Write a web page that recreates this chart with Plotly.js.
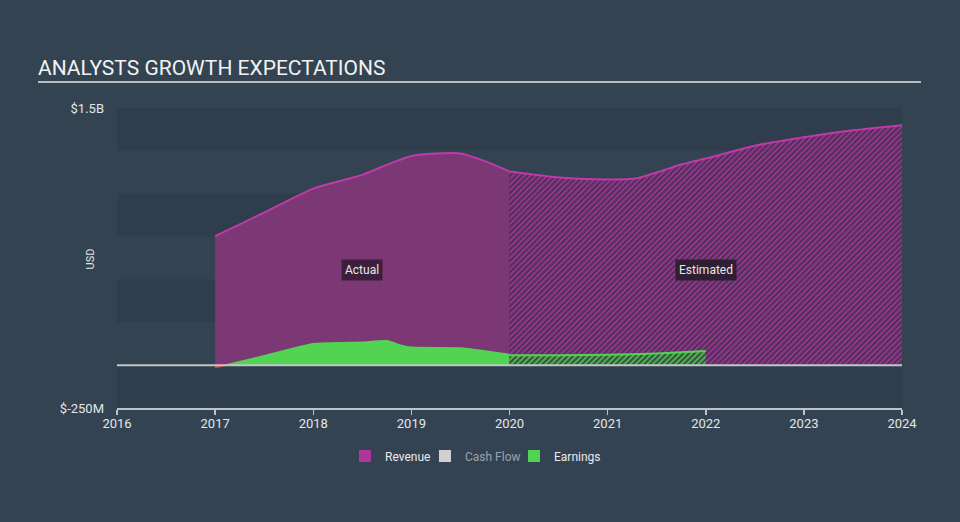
<!DOCTYPE html>
<html>
<head>
<meta charset="utf-8">
<script src="https://cdn.plot.ly/plotly-3.0.1.min.js"></script>
<style>
html,body{margin:0;padding:0;background:#344351;}
#chart{width:960px;height:522px;}
</style>
</head>
<body>
<div id="chart"></div>
<script>
// ---- data (USD billions) ----
const revActualX = [2017.0, 2017.5, 2018.0, 2018.5, 2018.8, 2019.0, 2019.25, 2019.5, 2019.75, 2020.0];
const revActualY = [0.753, 0.89, 1.03, 1.11, 1.18, 1.22, 1.235, 1.235, 1.19, 1.13];
const revEstX = [2020.0, 2020.5, 2021.0, 2021.3, 2021.75, 2022.0, 2022.5, 2023.0, 2023.5, 2024.0];
const revEstY = [1.13, 1.095, 1.083, 1.09, 1.17, 1.205, 1.28, 1.33, 1.37, 1.40];
const earnActualX = [2017.0, 2017.1, 2017.5, 2018.0, 2018.5, 2018.75, 2018.9, 2019.0, 2019.5, 2019.75, 2020.0];
const earnActualY = [-0.012, 0, 0.055, 0.125, 0.134, 0.142, 0.115, 0.104, 0.1, 0.082, 0.062];
const earnEstX = [2020.0, 2020.5, 2021.0, 2021.5, 2022.0];
const earnEstY = [0.058, 0.058, 0.06, 0.068, 0.082];
const xTicks = [2016, 2017, 2018, 2019, 2020, 2021, 2022, 2023, 2024];
const yTickVals = [-0.25, 1.5];
const yTickText = ['$-250M', '$1.5B'];
const bandEdges = [-0.25, 0, 0.25, 0.5, 0.75, 1.0, 1.25, 1.5];
const seriesNames = ['Revenue', 'Cash Flow', 'Earnings'];
const seriesColors = ['#b0359b', '#d0d0d0', '#52d452'];

const FONT = 'Roboto, "Open Sans", sans-serif';

const traces = [
  { x: revActualX, y: revActualY, type: 'scatter', mode: 'lines', fill: 'tozeroy',
    fillcolor: '#7b3875', line: {color: '#c03aa9', width: 2, shape: 'spline', smoothing: 0.6},
    showlegend: false, hoverinfo: 'skip' },
  { x: revEstX, y: revEstY, type: 'scatter', mode: 'lines', fill: 'tozeroy',
    fillcolor: '#55305a',
    fillpattern: {shape: '/', bgcolor: '#4f3057', fgcolor: '#9c3694', size: 4, solidity: 0.45},
    line: {color: '#c03aa9', width: 2, shape: 'spline', smoothing: 0.6},
    showlegend: false, hoverinfo: 'skip' },
  { x: earnActualX.slice(0, 2), y: earnActualY.slice(0, 2), type: 'scatter', mode: 'lines', fill: 'tozeroy',
    fillcolor: '#e2443c', line: {color: '#e2443c', width: 2},
    showlegend: false, hoverinfo: 'skip' },
  { x: earnActualX.slice(1), y: earnActualY.slice(1), type: 'scatter', mode: 'lines', fill: 'tozeroy',
    fillcolor: '#52d452', line: {color: '#52d452', width: 1.5, shape: 'spline', smoothing: 0.5},
    showlegend: false, hoverinfo: 'skip' },
  { x: earnEstX, y: earnEstY, type: 'scatter', mode: 'lines', fill: 'tozeroy',
    fillcolor: '#3a5a40',
    fillpattern: {shape: '/', bgcolor: '#3a4f42', fgcolor: '#4fc44f', size: 4, solidity: 0.45},
    line: {color: '#52d452', width: 2, shape: 'spline', smoothing: 0.5},
    showlegend: false, hoverinfo: 'skip' }
];

const legendIds = ['legend', 'legend2', 'legend3'];
const legendBoxCenters = [367, 447, 536];
seriesNames.forEach((n, i) => {
  traces.push({
    type: 'bar', x: [null], y: [null], marker: {color: seriesColors[i]},
    name: n === 'Cash Flow' ? '<span style="color:#97a3ae">' + n + '</span>' : n,
    showlegend: true, hoverinfo: 'skip', legend: legendIds[i]
  });
});

const shapes = [];
for (let i = 0; i < bandEdges.length - 1; i++) {
  if (i % 2 === 0) {
    shapes.push({type: 'rect', xref: 'paper', yref: 'y', x0: 0, x1: 1,
      y0: bandEdges[i], y1: bandEdges[i + 1], fillcolor: '#2f3d4c', line: {width: 0}, layer: 'below'});
  }
}
// zero line on top
shapes.push({type: 'line', xref: 'paper', yref: 'y', x0: 0, x1: 1, y0: 0, y1: 0,
  line: {color: '#c2c6ca', width: 2}, layer: 'above'});
// title underline
shapes.push({type: 'line', xref: 'paper', yref: 'paper', x0: -0.1006, x1: 1.0242, y0: 1.0867, y1: 1.0867,
  line: {color: '#b9bdc1', width: 2}});

const layout = {
  width: 960, height: 522,
  paper_bgcolor: '#344351', plot_bgcolor: '#334351',
  margin: {l: 117, r: 58, t: 108, b: 114},
  font: {family: FONT, color: '#e2e6ea', size: 12},
  title: {text: 'ANALYSTS GROWTH EXPECTATIONS', font: {family: FONT, size: 21, color: '#f2f2f2'},
    xref: 'container', yref: 'container', x: 38 / 960, xanchor: 'left', y: 1 - 68 / 522, yanchor: 'middle'},
  xaxis: {range: [2016, 2024], tickvals: xTicks, ticktext: xTicks.map(String),
    showgrid: false, zeroline: false, showline: true, linecolor: '#bcc3ca', linewidth: 1.5,
    ticks: 'outside', ticklen: 5, tickcolor: '#bcc3ca', tickwidth: 1.5, ticklabelstandoff: -2,
    tickfont: {size: 13, color: '#e2e6ea'}, fixedrange: true},
  yaxis: {range: [-0.25, 1.5], tickvals: yTickVals, ticktext: yTickText,
    showgrid: false, zeroline: false, showline: false, ticks: '', ticklabelstandoff: 12,
    tickfont: {size: 13, color: '#e2e6ea'}, fixedrange: true},
  showlegend: true,
  annotations: [
    {x: -0.0446, y: 0.497, xref: 'paper', yref: 'paper', text: 'USD', showarrow: false, textangle: -90,
      font: {size: 11, color: '#e2e6ea'}},
    {x: 2018.5, y: 0.553, xref: 'x', yref: 'y', text: 'Actual', showarrow: false,
      bgcolor: '#3b1f3c', font: {size: 12, color: '#e8e8e8'}, borderpad: 3},
    {x: 2022.0, y: 0.553, xref: 'x', yref: 'y', text: 'Estimated', showarrow: false,
      bgcolor: '#2f1f33', font: {size: 12, color: '#e8e8e8'}, borderpad: 3}
  ],
  shapes: shapes,
  bargap: 0
};
legendIds.forEach((id, i) => {
  layout[id] = {orientation: 'h', xref: 'container', yref: 'container',
    x: (legendBoxCenters[i] - 22) / 960, xanchor: 'left',
    y: 1 - 456 / 522, yanchor: 'middle', font: {size: 12, color: '#e8eaec'}, bgcolor: 'rgba(0,0,0,0)'};
});

Plotly.newPlot('chart', traces, layout, {staticPlot: true, displayModeBar: false});
</script>
</body>
</html>
